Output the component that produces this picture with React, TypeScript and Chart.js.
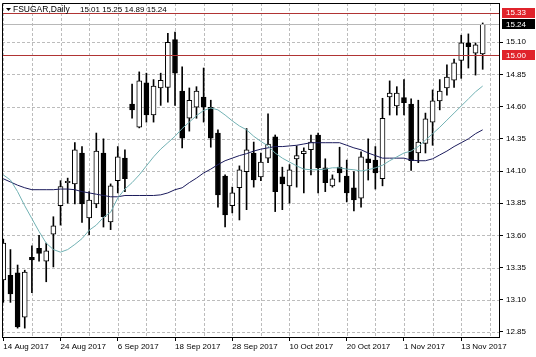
import React, { useEffect, useRef } from "react";
import { Chart, registerables } from "chart.js";

Chart.register(...registerables);

const symbolTitle = "FSUGAR,Daily";

const dates = [
  "14 Aug 2017", "15 Aug 2017", "16 Aug 2017", "17 Aug 2017", "18 Aug 2017", "21 Aug 2017", "22 Aug 2017", "23 Aug 2017",
  "24 Aug 2017", "25 Aug 2017", "28 Aug 2017", "29 Aug 2017", "30 Aug 2017", "31 Aug 2017", "1 Sep 2017", "5 Sep 2017",
  "6 Sep 2017", "7 Sep 2017", "8 Sep 2017", "11 Sep 2017", "12 Sep 2017", "13 Sep 2017", "14 Sep 2017", "15 Sep 2017",
  "18 Sep 2017", "19 Sep 2017", "20 Sep 2017", "21 Sep 2017", "22 Sep 2017", "25 Sep 2017", "26 Sep 2017", "27 Sep 2017",
  "28 Sep 2017", "29 Sep 2017", "2 Oct 2017", "3 Oct 2017", "4 Oct 2017", "5 Oct 2017", "6 Oct 2017", "9 Oct 2017",
  "10 Oct 2017", "11 Oct 2017", "12 Oct 2017", "13 Oct 2017", "16 Oct 2017", "17 Oct 2017", "18 Oct 2017", "19 Oct 2017",
  "20 Oct 2017", "23 Oct 2017", "24 Oct 2017", "25 Oct 2017", "26 Oct 2017", "27 Oct 2017", "30 Oct 2017", "31 Oct 2017",
  "1 Nov 2017", "2 Nov 2017", "3 Nov 2017", "6 Nov 2017", "7 Nov 2017", "8 Nov 2017", "9 Nov 2017", "10 Nov 2017",
  "13 Nov 2017", "14 Nov 2017", "15 Nov 2017", "16 Nov 2017",
];

const opens = [
  13.255, 13.29, 13.31, 12.965, 13.43, 13.5, 13.4, 13.61,
  13.83, 14.01, 14.0, 14.24, 13.735, 13.845, 14.24, 13.705,
  14.025, 14.2, 14.62, 14.44, 14.785, 14.535, 14.745, 14.75,
  15.12, 14.72, 14.51, 14.595, 14.675, 14.595, 14.395, 14.06,
  13.83, 13.97, 14.095, 14.24, 14.055, 14.2, 14.365, 14.055,
  13.985, 14.195, 14.235, 14.265, 14.38, 14.125, 13.985, 14.13,
  14.06, 13.97, 13.89, 14.195, 14.185, 14.04, 14.675, 14.605,
  14.67, 14.62, 14.24, 14.315, 14.48, 14.645, 14.745, 14.805,
  14.96, 15.095, 15.015, 15.01,
];

const highs = [
  13.57, 13.49, 13.37, 13.33, 13.52, 13.6, 13.54, 13.745,
  14.025, 14.045, 14.32, 14.29, 13.94, 14.395, 14.35, 14.0,
  14.29, 14.265, 14.775, 14.87, 14.86, 14.81, 14.86, 15.17,
  15.18, 14.91, 14.745, 14.755, 14.9, 14.65, 14.42, 14.07,
  13.975, 14.14, 14.43, 14.325, 14.24, 14.545, 14.38, 14.13,
  14.15, 14.295, 14.28, 14.38, 14.395, 14.195, 14.07, 14.285,
  14.185, 14.095, 14.25, 14.35, 14.29, 14.665, 14.8, 14.755,
  14.81, 14.66, 14.65, 14.55, 14.73, 14.81, 14.925, 14.97,
  15.155, 15.165, 15.095, 15.25,
];

const lows = [
  13.08, 13.08, 12.88, 12.88, 13.155, 13.4, 13.24, 13.355,
  13.68, 13.85, 13.845, 13.7, 13.605, 13.815, 13.665, 13.645,
  13.93, 13.94, 14.51, 14.435, 14.48, 14.48, 14.61, 14.635,
  14.61, 14.28, 14.41, 14.51, 14.48, 14.285, 13.82, 13.665,
  13.775, 13.72, 13.8, 13.975, 14.025, 14.165, 13.785, 13.8,
  13.85, 13.975, 13.93, 14.07, 13.93, 13.94, 13.975, 14.015,
  13.86, 13.79, 13.82, 14.03, 13.96, 13.985, 14.535, 14.535,
  14.535, 14.105, 14.165, 14.24, 14.3, 14.575, 14.69, 14.75,
  14.82, 14.9, 14.845, 14.89,
];

const closes = [
  13.54, 13.145, 12.89, 13.315, 13.41, 13.46, 13.48, 13.675,
  13.98, 14.02, 14.265, 13.845, 13.875, 14.255, 13.745, 13.985,
  14.21, 14.04, 14.575, 14.8, 14.535, 14.76, 14.805, 15.1,
  14.86, 14.355, 14.65, 14.72, 14.595, 14.355, 13.915, 13.76,
  13.93, 14.11, 14.265, 14.03, 14.17, 14.31, 13.94, 14.0,
  14.11, 14.22, 14.255, 14.325, 14.125, 14.01, 14.04, 14.085,
  13.93, 13.875, 14.21, 14.165, 14.085, 14.51, 14.705, 14.705,
  14.63, 14.18, 14.325, 14.505, 14.645, 14.72, 14.83, 14.94,
  15.095, 15.065, 15.08, 15.24,
];

const fastMA = [
  14.07, 14.03, 13.94, 13.83, 13.73, 13.63, 13.54, 13.49,
  13.47, 13.49, 13.53, 13.575, 13.64, 13.68, 13.74, 13.78,
  13.89, 13.96, 14.01, 14.07, 14.14, 14.21, 14.27, 14.32,
  14.37, 14.43, 14.48, 14.53, 14.57, 14.59, 14.575, 14.535,
  14.49, 14.45, 14.42, 14.37, 14.33, 14.295, 14.24, 14.2,
  14.17, 14.14, 14.115, 14.11, 14.11, 14.115, 14.125, 14.125,
  14.115, 14.11, 14.1, 14.11, 14.125, 14.145, 14.18, 14.21,
  14.24, 14.255, 14.29, 14.34, 14.39, 14.44, 14.495, 14.55,
  14.605, 14.66, 14.715, 14.76,
];

const slowMA = [
  14.04, 14.015, 13.99, 13.97, 13.955, 13.955, 13.955, 13.955,
  13.96, 13.96, 13.955, 13.94, 13.93, 13.92, 13.91, 13.9,
  13.9, 13.91, 13.91, 13.91, 13.91, 13.91, 13.915, 13.93,
  13.955, 13.97, 14.01, 14.045, 14.085, 14.115, 14.15, 14.18,
  14.2, 14.22, 14.235, 14.255, 14.27, 14.28, 14.29, 14.29,
  14.295, 14.3, 14.31, 14.32, 14.32, 14.32, 14.32, 14.32,
  14.3, 14.28, 14.265, 14.24, 14.22, 14.2, 14.2, 14.2,
  14.2, 14.185, 14.18, 14.18, 14.195, 14.225, 14.255, 14.29,
  14.32, 14.35, 14.39, 14.42,
];

const priceTicks = [12.85, 13.1, 13.35, 13.6, 13.85, 14.1, 14.35, 14.6, 14.85, 15.1];
const levelLines = [15.33, 15.0];

export default function App() {
  const ref = useRef<HTMLCanvasElement>(null);

  useEffect(() => {
    document.body.style.margin = "0";
    const canvas = ref.current;
    if (!canvas) return;

    const idx = dates.map((_, i) => i);
    const last = closes.length - 1;
    const fontFamily = "'Liberation Sans', Arial, sans-serif";
    const font = { family: fontFamily, size: 8 };

    const gridPlugin = {
      id: "mtGrid",
      beforeDatasetsDraw(chart: any) {
        const { ctx, chartArea: a, scales } = chart;
        ctx.save();
        ctx.strokeStyle = "#bcbcbc";
        ctx.lineWidth = 1;
        ctx.setLineDash([3, 2]);
        scales.x.ticks.forEach((t: any) => {
          const px = Math.round(scales.x.getPixelForValue(t.value)) + 0.5;
          if (px <= a.left + 1 || px >= a.right - 1) return;
          ctx.beginPath();
          ctx.moveTo(px, a.top);
          ctx.lineTo(px, a.bottom);
          ctx.stroke();
        });
        scales.y.ticks.forEach((t: any) => {
          const py = Math.round(scales.y.getPixelForValue(t.value)) + 0.5;
          ctx.beginPath();
          ctx.moveTo(a.left, py);
          ctx.lineTo(a.right, py);
          ctx.stroke();
        });
        ctx.restore();
      },
    };

    const overlay = {
      id: "mtOverlay",
      afterDraw(chart: any) {
        const { ctx, chartArea: a, scales } = chart;
        const ys = scales.y;
        ctx.save();
        // bid line
        const bidY = Math.round(ys.getPixelForValue(closes[last])) + 0.5;
        ctx.strokeStyle = "#b8b8b8";
        ctx.lineWidth = 1;
        ctx.beginPath();
        ctx.moveTo(a.left, bidY);
        ctx.lineTo(a.right, bidY);
        ctx.stroke();
        // level lines
        ctx.strokeStyle = "#b03434";
        levelLines.forEach((v) => {
          const py = Math.round(ys.getPixelForValue(v)) + 0.5;
          ctx.beginPath();
          ctx.moveTo(a.left, py);
          ctx.lineTo(a.right, py);
          ctx.stroke();
        });
        // frame
        ctx.strokeStyle = "#000";
        ctx.beginPath();
        ctx.moveTo(a.left + 0.5, a.bottom);
        ctx.lineTo(a.left + 0.5, a.top + 0.5);
        ctx.lineTo(a.right, a.top + 0.5);
        ctx.stroke();
        // price boxes
        ctx.font = `8px ${fontFamily}`;
        ctx.textBaseline = "middle";
        ctx.textAlign = "left";
        const box = (v: number, bg: string) => {
          const py = ys.getPixelForValue(v);
          ctx.fillStyle = bg;
          ctx.fillRect(a.right + 3, Math.round(py) - 5, 33, 10);
          ctx.fillStyle = "#fff";
          ctx.fillText(v.toFixed(2), a.right + 7, py + 0.5);
        };
        levelLines.forEach((v) => box(v, "#e0232b"));
        box(closes[last], "#000");
        // title
        ctx.fillStyle = "#000";
        ctx.beginPath();
        ctx.moveTo(6, 8);
        ctx.lineTo(11, 8);
        ctx.lineTo(8.5, 11);
        ctx.closePath();
        ctx.fill();
        ctx.textBaseline = "middle";
        ctx.font = `8.5px ${fontFamily}`;
        ctx.fillText(symbolTitle, 13, 10);
        const ohlc = [opens[last], highs[last], lows[last], closes[last]].map((v) => v.toFixed(2)).join(" ");
        ctx.font = `8px ${fontFamily}`;
        ctx.fillText(ohlc, 80, 10);
        ctx.restore();
      },
    };

    const chart = new Chart(canvas, {
      type: "bar",
      data: {
        datasets: [
          {
            type: "line",
            data: fastMA.map((v, i) => ({ x: i, y: v })),
            borderColor: "#72b2b4",
            borderWidth: 1,
            pointRadius: 0,
            tension: 0,
            order: 0,
          } as any,
          {
            type: "line",
            data: slowMA.map((v, i) => ({ x: i, y: v })),
            borderColor: "#1b1b5c",
            borderWidth: 1,
            pointRadius: 0,
            tension: 0,
            order: 0,
          } as any,
          {
            type: "bar",
            data: idx.map((i) => ({ x: i, y: [opens[i], closes[i]] })),
            backgroundColor: idx.map((i) => (closes[i] >= opens[i] ? "#ffffff" : "#000000")),
            borderColor: "#000",
            borderWidth: 1,
            borderSkipped: false,
            barThickness: 5,
            grouped: false,
            order: 1,
          } as any,
          {
            type: "bar",
            data: idx.map((i) => ({ x: i, y: [lows[i], highs[i]] })),
            backgroundColor: "#000",
            borderWidth: 0,
            barThickness: 1,
            grouped: false,
            order: 2,
          } as any,
        ],
      },
      options: {
        responsive: false,
        animation: false,
        events: [],
        devicePixelRatio: 1,
        layout: { padding: { left: 2, top: 3, right: 0, bottom: 0 } },
        plugins: { legend: { display: false }, tooltip: { enabled: false }, title: { display: false } },
        scales: {
          x: {
            type: "linear",
            offset: false,
            min: -0.18,
            max: 69.28,
            grid: {
              offset: false,
              drawOnChartArea: false,
              tickLength: 4,
              tickColor: (c: any) => (c.tick && c.tick.value % 8 === 0 ? "#000" : "rgba(0,0,0,0)"),
            },
            border: { display: true, color: "#000", width: 1 },
            afterBuildTicks: (s: any) => {
              const t = [];
              for (let i = 0; i <= 68; i += 4) t.push({ value: i });
              s.ticks = t;
            },
            afterFit: (s: any) => {
              s.height = 20;
              s.paddingLeft = 0;
              s.paddingRight = 0;
            },
            ticks: {
              autoSkip: false,
              maxRotation: 0,
              minRotation: 0,
              align: "start",
              padding: 1,
              color: "#000",
              font,
              callback: (v: any) => (v % 8 === 0 && dates[v] ? dates[v] : ""),
            },
          } as any,
          y: {
            type: "linear",
            position: "right",
            min: 12.811,
            max: 15.405,
            grid: { drawOnChartArea: false, tickLength: 4, tickColor: "#000" },
            border: { display: true, color: "#000", width: 1 },
            afterBuildTicks: (s: any) => {
              s.ticks = priceTicks.map((v) => ({ value: v }));
            },
            afterFit: (s: any) => {
              s.width = 37;
              s.paddingTop = 0;
              s.paddingBottom = 0;
            },
            ticks: {
              padding: 3,
              color: "#000",
              font,
              callback: (v: any) => Number(v).toFixed(2),
            },
          } as any,
        },
      },
      plugins: [gridPlugin, overlay],
    } as any);

    return () => chart.destroy();
  }, []);

  return <canvas ref={ref} width={536} height={357} style={{ display: "block" }} />;
}
